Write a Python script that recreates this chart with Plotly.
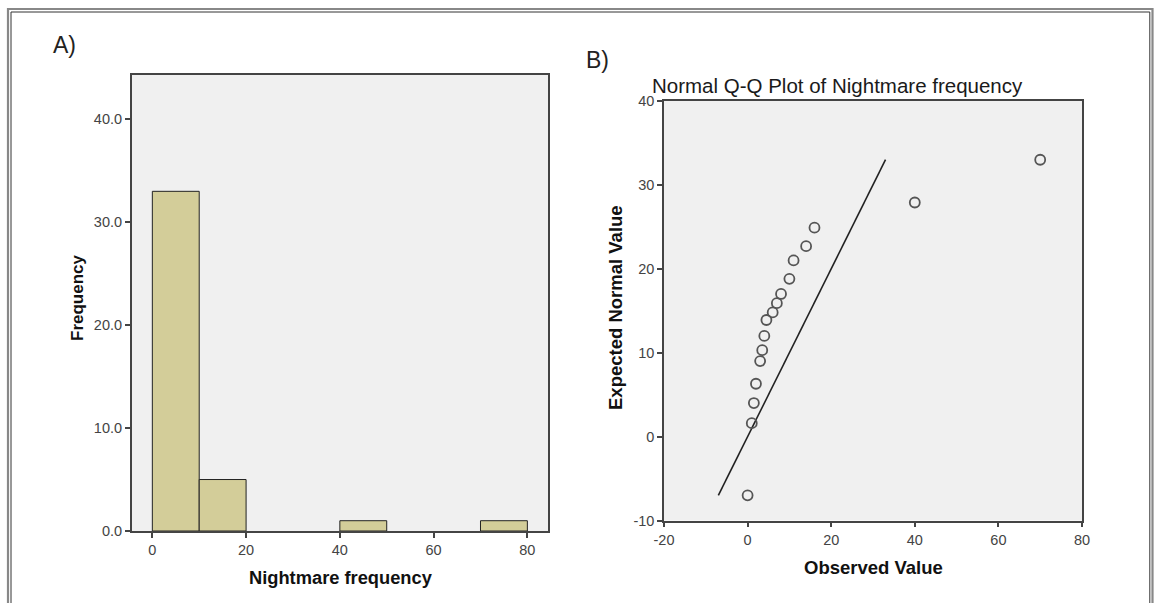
import plotly.graph_objects as go

W, H = 1157, 603

# ---- Data ----
bin_starts = [0, 10, 40, 70]
bin_width = 10
counts = [33, 5, 1, 1]

observed = [0, 1, 1.5, 2, 3, 3.5, 4, 4.5, 6, 7, 8, 10, 11, 14, 16, 40, 70]
expected = [-7.0, 1.6, 4.0, 6.3, 9.0, 10.3, 12.0, 13.9, 14.8, 15.9, 17.0, 18.8, 21.0, 22.7, 24.9, 27.9, 33.0]

ref_line_x = [-7.0, 33.0]
ref_line_y = [-7.0, 33.0]

hist_xticks = [0, 20, 40, 60, 80]
hist_yticks = [0, 10, 20, 30, 40]
qq_xticks = [-20, 0, 20, 40, 60, 80]
qq_xticklabels = ["-20", "0", "20", "40", "60", "80"]
qq_yticks = [-10, 0, 10, 20, 30, 40]
qq_yticklabels = ["-10", "0", "10", "20", "30", "40"]

def px(x):
    return x / W

def py(y):
    return 1 - y / H

FONT = "Liberation Sans, Arial, sans-serif"
tickfont = dict(family=FONT, size=14.5, color="#444")

fig = go.Figure()

fig.add_trace(go.Bar(
    x=bin_starts, y=counts, width=bin_width, offset=0,
    marker=dict(color="#d3cd99", line=dict(color="#222", width=1)),
    xaxis="x", yaxis="y", showlegend=False,
))

fig.add_trace(go.Scatter(
    x=ref_line_x, y=ref_line_y, mode="lines",
    line=dict(color="#222", width=1.6),
    xaxis="x2", yaxis="y2", showlegend=False,
))

fig.add_trace(go.Scatter(
    x=observed, y=expected, mode="markers",
    marker=dict(symbol="circle-open", size=10, color="#555", line=dict(width=1.8)),
    xaxis="x2", yaxis="y2", showlegend=False,
))

axis_common = dict(
    showline=True, mirror=True, linecolor="#444", linewidth=1.5,
    showgrid=False, zeroline=False, ticks="outside", ticklen=5,
    tickcolor="#444", tickwidth=1.5, tickfont=tickfont, automargin=False,
)

fig.update_layout(
    template="none",
    width=W, height=H, autosize=False,
    margin=dict(l=0, r=0, t=0, b=0, pad=0),
    paper_bgcolor="white", plot_bgcolor="#f0f0f0",
    font=dict(family=FONT),
    showlegend=False,
    xaxis=dict(domain=[px(131.7), px(548)], range=[-4.4, 84.4],
               tickvals=hist_xticks, anchor="y", **axis_common),
    yaxis=dict(domain=[py(531), py(75)], range=[0, 44.3],
               tickvals=hist_yticks, tickformat=".1f", anchor="x", **axis_common),
    xaxis2=dict(domain=[px(664), px(1082)], range=[-20, 80],
                tickvals=qq_xticks, ticktext=qq_xticklabels, anchor="y2", **axis_common),
    yaxis2=dict(domain=[py(520.5), py(101)], range=[-10, 40],
                tickvals=qq_yticks, ticktext=qq_yticklabels, anchor="x2", **axis_common),
)

annotations = [
    dict(text="A)", x=px(64), y=py(45), font=dict(size=23, color="#222", family=FONT)),
    dict(text="B)", x=px(597), y=py(60), font=dict(size=23, color="#222", family=FONT)),
    dict(text="Normal Q-Q Plot of Nightmare frequency", x=px(837), y=py(85),
         font=dict(size=20.5, color="#1a1a1a", family=FONT)),
    dict(text="<b>Frequency</b>", x=px(77), y=py(298), textangle=-90,
         font=dict(size=17, color="#111", family=FONT)),
    dict(text="<b>Nightmare frequency</b>", x=px(341), y=py(577),
         font=dict(size=18.3, color="#111", family=FONT)),
    dict(text="<b>Expected Normal Value</b>", x=px(615), y=py(308), textangle=-90,
         font=dict(size=18.5, color="#111", family=FONT)),
    dict(text="<b>Observed Value</b>", x=px(873), y=py(567),
         font=dict(size=18.5, color="#111", family=FONT)),
]
for a in annotations:
    a.update(xref="paper", yref="paper", showarrow=False, xanchor="center", yanchor="middle")
fig.update_layout(annotations=annotations)

# Double-line frame around the figure
fig.update_layout(shapes=[
    dict(type="rect", xref="paper", yref="paper",
         x0=px(8), x1=px(1152.5), y0=py(640), y1=py(9),
         line=dict(color="#888", width=2.2), fillcolor="rgba(0,0,0,0)", layer="below"),
    dict(type="rect", xref="paper", yref="paper",
         x0=px(11), x1=px(1149.8), y0=py(640), y1=py(12),
         line=dict(color="#333", width=1), fillcolor="rgba(0,0,0,0)", layer="below"),
])

fig.write_html(
    "out.html",
    config={"displayModeBar": False, "responsive": False},
    post_script="document.body.style.margin='0';document.body.style.padding='0';"
                "document.body.style.overflow='hidden';",
)
